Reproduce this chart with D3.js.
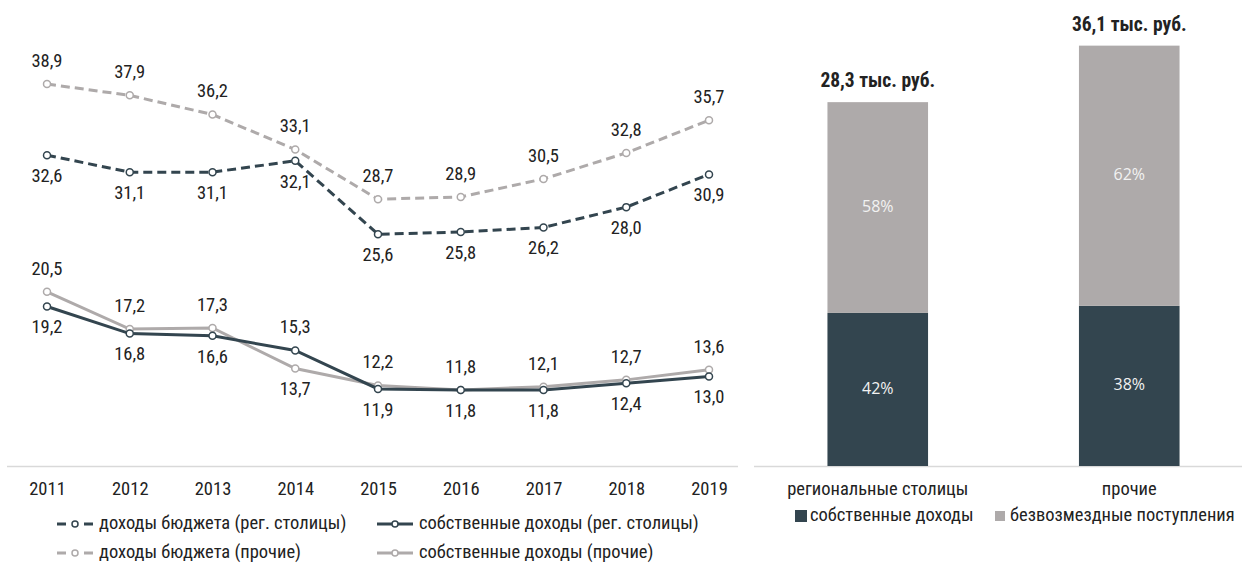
<!DOCTYPE html>
<html><head><meta charset="utf-8">
<script src="https://cdn.jsdelivr.net/npm/d3@7"></script>
<style>
html,body{margin:0;padding:0;background:#fff;}
svg text{font-family:'Liberation Sans Narrow','Arial Narrow','Roboto Condensed',sans-serif;fill:#222;}
</style></head>
<body>
<svg id="c" width="1242" height="565"></svg>
<script>
// ---- data ----
const years = ["2011","2012","2013","2014","2015","2016","2017","2018","2019"];
const budgetCapitals = [32.6,31.1,31.1,32.1,25.6,25.8,26.2,28.0,30.9];
const budgetOthers   = [38.9,37.9,36.2,33.1,28.7,28.9,30.5,32.8,35.7];
const ownCapitals    = [19.2,16.8,16.6,15.3,11.9,11.8,11.8,12.4,13.0];
const ownOthers      = [20.5,17.2,17.3,13.7,12.2,11.8,12.1,12.7,13.6];
const seriesNames = ["доходы бюджета (рег. столицы)","собственные доходы (рег. столицы)","доходы бюджета (прочие)","собственные доходы (прочие)"];

const barCategories = ["региональные столицы","прочие"];
const barOwn  = [13.0,13.6];
const barFree = [17.9,22.1];
const barTotals = ["28,3 тыс. руб.","36,1 тыс. руб."];
const barSeriesNames = ["собственные доходы","безвозмездные поступления"];

const DARK="#33454f", GRAY="#aeaaaa", AXIS="#d9d9d9";
const FS=18.5;
const svg=d3.select("#c");
const fmt=v=>d3.format(".1f")(v).replace(".",",");

// ---- left line chart ----
const x=d3.scalePoint().domain(years).range([47,709]);
const y=d3.scaleLinear().domain([5,45]).range([466.8,15.2]);

svg.append("line").attr("x1",7).attr("x2",738).attr("y1",466.5).attr("y2",466.5)
  .attr("stroke",AXIS).attr("stroke-width",1.5);
const xa=svg.append("g").attr("transform","translate(0,466)")
  .call(d3.axisBottom(x).tickSize(0).tickPadding(16));
xa.select(".domain").remove();
xa.selectAll("text").attr("font-size",FS).attr("font-family",null).attr("fill",null);

const series=[
  {vals:budgetCapitals,color:DARK,dash:"9,5",other:budgetOthers,prefAbove:false},
  {vals:ownCapitals,color:DARK,dash:null,other:ownOthers,prefAbove:false},
  {vals:budgetOthers,color:GRAY,dash:"9,5",other:budgetCapitals,prefAbove:true},
  {vals:ownOthers,color:GRAY,dash:null,other:ownCapitals,prefAbove:true}
];
const drawOrder=[3,2,1,0];
const line=d3.line().x((d,i)=>x(years[i])).y(d=>y(d));
drawOrder.forEach(k=>{
  const s=series[k];
  svg.append("path").datum(s.vals).attr("d",line).attr("fill","none")
    .attr("stroke",s.color).attr("stroke-width",3)
    .attr("stroke-dasharray",s.dash);
  svg.append("g").selectAll("circle").data(s.vals).join("circle")
    .attr("cx",(d,i)=>x(years[i])).attr("cy",d=>y(d)).attr("r",3.5)
    .attr("fill","#fff").attr("stroke",s.color).attr("stroke-width",1.5);
});
series.forEach(s=>{
  svg.append("g").selectAll("text").data(s.vals).join("text")
    .attr("x",(d,i)=>x(years[i]))
    .attr("y",(d,i)=>{
      const o=s.other[i];
      const above = d>o ? true : d<o ? false : s.prefAbove;
      return y(d)+(above?-22:22);
    })
    .attr("text-anchor","middle").attr("dominant-baseline","middle")
    .attr("font-size",FS).text(d=>fmt(d));
});

// legend left
const legPos=[[57,524],[377,524],[57,553],[377,553]];
series.forEach((s,k)=>{
  const [lx,ly]=legPos[k];
  const g=svg.append("g");
  g.append("line").attr("x1",lx).attr("x2",lx+36).attr("y1",ly).attr("y2",ly)
    .attr("stroke",s.color).attr("stroke-width",3).attr("stroke-dasharray",s.dash?"9,18,9":null);
  g.append("circle").attr("cx",lx+18).attr("cy",ly).attr("r",3)
    .attr("fill","#fff").attr("stroke",s.color).attr("stroke-width",1.5);
  g.append("text").attr("x",lx+42).attr("y",ly).attr("dominant-baseline","middle")
    .attr("font-size",FS).text(seriesNames[k]);
});

// ---- right bar chart ----
const xb=d3.scaleBand().domain(barCategories).range([752,1255]).paddingInner(0.6).paddingOuter(0.3);
const yb=d3.scaleLinear().domain([0,40]).range([466,-5]);
svg.append("line").attr("x1",754).attr("x2",1242).attr("y1",466.5).attr("y2",466.5)
  .attr("stroke",AXIS).attr("stroke-width",1.5);
barCategories.forEach((c,i)=>{
  const bx=xb(c), bw=xb.bandwidth(), tot=barOwn[i]+barFree[i];
  svg.append("rect").attr("x",bx).attr("width",bw).attr("y",yb(barOwn[i])).attr("height",yb(0)-yb(barOwn[i])).attr("fill",DARK);
  svg.append("rect").attr("x",bx).attr("width",bw).attr("y",yb(tot)).attr("height",yb(barOwn[i])-yb(tot)).attr("fill",GRAY);
  svg.append("text").attr("x",bx+bw/2).attr("y",(yb(0)+yb(barOwn[i]))/2).attr("text-anchor","middle")
    .attr("dominant-baseline","middle").attr("font-size",16).style("font-family","'Open Sans',sans-serif").style("fill","#f2f2f2")
    .text(Math.round(barOwn[i]/tot*100)+"%");
  svg.append("text").attr("x",bx+bw/2).attr("y",(yb(barOwn[i])+yb(tot))/2).attr("text-anchor","middle")
    .attr("dominant-baseline","middle").attr("font-size",16).style("font-family","'Open Sans',sans-serif").style("fill","#f2f2f2")
    .text(Math.round(barFree[i]/tot*100)+"%");
  svg.append("text").attr("x",bx+bw/2).attr("y",yb(tot)-20).attr("text-anchor","middle")
    .attr("dominant-baseline","middle").attr("font-size",19.5).attr("font-weight","bold").text(barTotals[i]);
  svg.append("text").attr("x",bx+bw/2).attr("y",490).attr("text-anchor","middle")
    .attr("dominant-baseline","middle").attr("font-size",FS).text(c);
});
// legend right
const rl=[[795,516,12,DARK],[995,516,10,GRAY]];
rl.forEach(([lx,ly,sz,col],k)=>{
  svg.append("rect").attr("x",lx).attr("y",ly-sz/2).attr("width",sz).attr("height",sz).attr("fill",col);
  svg.append("text").attr("x",lx+15).attr("y",ly).attr("dominant-baseline","middle")
    .attr("font-size",FS).text(barSeriesNames[k]);
});
</script>
</body></html>
